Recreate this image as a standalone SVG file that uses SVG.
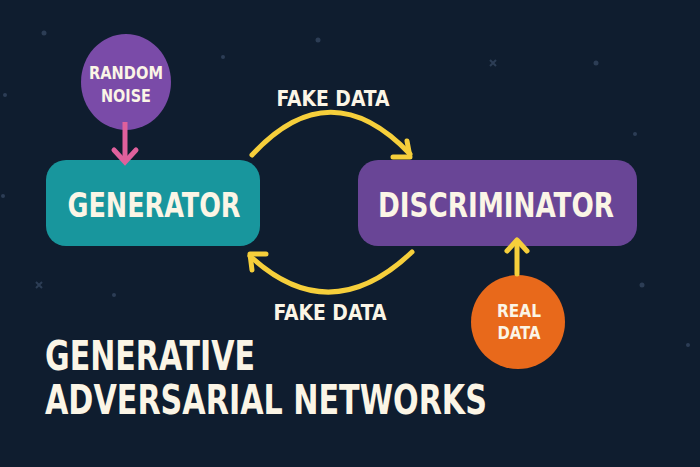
<svg xmlns="http://www.w3.org/2000/svg" width="700" height="467" viewBox="0 0 700 467">
<style>
text{font-family:"DejaVu Sans Condensed","DejaVu Sans",sans-serif;font-stretch:condensed;font-weight:bold;fill:#fbf5e6;text-anchor:middle}
text.l{text-anchor:start}
.y{fill:none;stroke:#f6cf3b;stroke-width:5;stroke-linecap:round;stroke-linejoin:round}
.s{fill:#2c3d55}
</style>
<rect width="700" height="467" fill="#0f1d2f"/>
<g class="s"><circle cx="44" cy="33" r="2.5"/><circle cx="318" cy="40" r="2.5"/><circle cx="223" cy="57" r="2"/><circle cx="596" cy="63" r="2.5"/><circle cx="5" cy="95" r="2"/><circle cx="635" cy="134" r="2"/><circle cx="3" cy="196" r="2"/><circle cx="642" cy="285" r="2.5"/><circle cx="114" cy="295" r="2"/><circle cx="688" cy="345" r="2"/></g>
<g fill="none" stroke="#2c3d55" stroke-width="2"><path d="M490 60l6 6m0-6l-6 6M36 282l6 6m0-6l-6 6"/></g>
<g id="random-noise"><ellipse cx="126" cy="82" rx="45" ry="48" fill="#7a4ba8"/><text x="126" y="79" font-size="18" textLength="74" lengthAdjust="spacingAndGlyphs">RANDOM</text><text x="126" y="102" font-size="18" textLength="50" lengthAdjust="spacingAndGlyphs">NOISE</text></g>
<g id="generator"><rect x="46" y="160" width="214" height="86" rx="20" fill="#18969d"/><text x="154" y="217" font-size="34" textLength="173" lengthAdjust="spacingAndGlyphs">GENERATOR</text></g>
<g id="discriminator"><rect x="358" y="160" width="279" height="86" rx="20" fill="#694596"/><text x="496" y="217" font-size="34" textLength="236" lengthAdjust="spacingAndGlyphs">DISCRIMINATOR</text></g>
<g id="real-data"><circle cx="518" cy="322" r="47" fill="#e8691b"/><text x="519" y="317" font-size="18" textLength="44" lengthAdjust="spacingAndGlyphs">REAL</text><text x="519" y="339" font-size="18" textLength="43" lengthAdjust="spacingAndGlyphs">DATA</text></g>
<g id="connectors">
<path d="M125 122V160" fill="none" stroke="#e0609c" stroke-width="5"/><path d="M114 150l11 12 11-12" fill="none" stroke="#e0609c" stroke-width="5" stroke-linecap="round"/>
<path class="y" d="M252 155Q330 70 410 154"/><path class="y" d="M393 157l17 0 -3-16"/>
<path class="y" d="M412 252Q330 330 250 256"/><path class="y" d="M266 254l-16 0 2 16"/>
<path class="y" d="M517 274V242"/><path class="y" d="M507 251l10-11 10 11"/>
</g>
<text x="333" y="106" font-size="21" textLength="113" lengthAdjust="spacingAndGlyphs">FAKE DATA</text>
<text x="330" y="320" font-size="21" textLength="113" lengthAdjust="spacingAndGlyphs">FAKE DATA</text>
<text class="l" x="45" y="370" font-size="40" textLength="210" lengthAdjust="spacingAndGlyphs">GENERATIVE</text>
<text class="l" x="45" y="414" font-size="40" textLength="442" lengthAdjust="spacingAndGlyphs">ADVERSARIAL NETWORKS</text>
</svg>
